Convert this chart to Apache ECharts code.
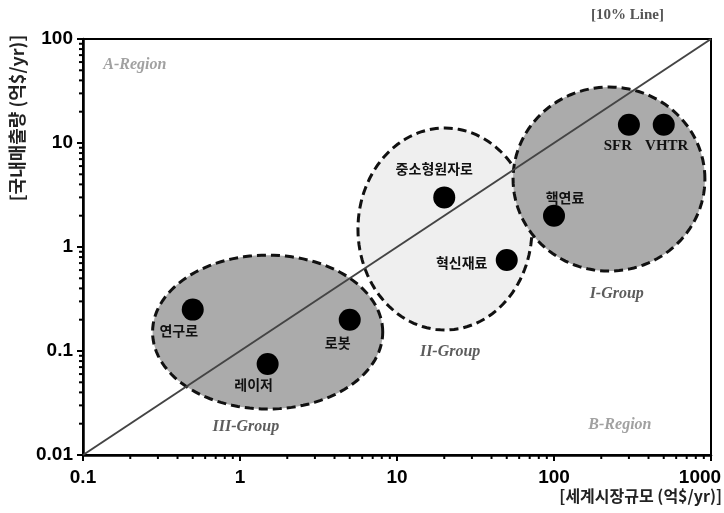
<!DOCTYPE html>
<html><head><meta charset="utf-8">
<script src="https://cdn.jsdelivr.net/npm/echarts@6/dist/echarts.min.js"></script>
<style>html,body{margin:0;padding:0;background:#fff}#c{width:724px;height:513px}</style>
</head><body><div id="c"></div>
<script>
// ---- data ----
const pointNames = ['연구로','레이저','로봇','중소형원자로','혁신재료','핵연료','SFR','VHTR'];
const pointX = [0.5, 1.5, 5, 20, 50, 100, 300, 500];
const pointY = [0.25, 0.075, 0.2, 3, 0.75, 2, 15, 15];
const lineX = [0.1, 1000];
const lineY = [0.01, 100];
const xTickLabels = ['0.1','1','10','100','1000'];
const yTickLabels = ['0.01','0.1','1','10','100'];
const groupNames = ['III-Group','II-Group','I-Group'];
const groupCX = [1.5, 20.2, 224];
const groupCY = [0.152, 1.49, 4.5];
const groupRX = [0.733, 0.554, 0.611];   // radii in decades
const groupRY = [0.74, 0.971, 0.885];
const groupLabelX = [1.09, 21.8, 251];
const groupLabelY = [0.0186, 0.098, 0.353];
const regionNames = ['A-Region','B-Region'];
const regionX = [0.214, 263];
const regionY = [56, 0.0194];
const minorMult = [2,3,4,5,6,7,8,9];
const xDecades = [0.1, 1, 10, 100];
const yDecades = [0.01, 0.1, 1, 10];

// ---- styles ----
const labelOffsets = {
  '연구로': [-14, 21], '레이저': [-14, 21], '로봇': [-12, 23], '중소형원자로': [-10, -29],
  '혁신재료': [-45, 3], '핵연료': [11, -18], 'SFR': [-11, 21], 'VHTR': [3, 21]
};
const groupFill = ['#ababab', '#efefef', '#ababab'];
const latin = /^[A-Za-z]+$/;
const tickFont = { color: '#000', fontSize: 19, fontWeight: 'bold', fontFamily: 'Liberation Sans, Arial' };

const minorX = [], minorY = [];
xDecades.forEach(d => minorMult.forEach(m => minorX.push(+(d * m).toPrecision(6))));
yDecades.forEach(d => minorMult.forEach(m => minorY.push(+(d * m).toPrecision(6))));

const chart = echarts.init(document.getElementById('c'));
const option = {
  backgroundColor: '#fff',
  animation: false,
  grid: { left: 83, right: 13, top: 39, bottom: 58, show: true, borderColor: '#000', borderWidth: 2,
    containLabel: false, outerBoundsMode: 'none' },
  xAxis: {
    type: 'log', logBase: 10, min: 0.1, max: 1000,
    splitLine: { show: false },
    axisLine: { lineStyle: { color: '#000', width: 2.5 } },
    axisTick: { length: 6, lineStyle: { color: '#000', width: 2 } },
    axisLabel: Object.assign({}, tickFont, { margin: 13,
      formatter: (v, i) => i === xTickLabels.length - 1 ? '{m|' + xTickLabels[i] + '}' : xTickLabels[i],
      rich: { m: Object.assign({}, tickFont, { padding: [0, 22, 0, 0] }) } }),
  },
  yAxis: {
    type: 'log', logBase: 10, min: 0.01, max: 100,
    splitLine: { show: false },
    axisLine: { lineStyle: { color: '#000', width: 2.5 } },
    axisTick: { length: 6, lineStyle: { color: '#000', width: 2 } },
    axisLabel: Object.assign({}, tickFont, { margin: 10, formatter: (v, i) => yTickLabels[i] }),
  },
  series: [
    {
      type: 'custom', z: 1, silent: true, clip: false,
      data: groupNames.map((n, i) => [groupCX[i], groupCY[i], groupRX[i], groupRY[i], i]),
      renderItem: (params, api) => {
        const cx = api.value(0), cy = api.value(1), rx = api.value(2), ry = api.value(3), idx = api.value(4);
        const pts = [];
        for (let k = 0; k < 120; k++) {
          const t = k / 120 * Math.PI * 2;
          pts.push(api.coord([cx * Math.pow(10, rx * Math.cos(t)), cy * Math.pow(10, ry * Math.sin(t))]));
        }
        return { type: 'polygon', shape: { points: pts },
          style: { fill: groupFill[idx], stroke: '#111', lineWidth: 3, lineDash: [9, 5] } };
      }
    },
    {
      type: 'line', z: 2, silent: true, symbol: 'none',
      data: lineX.map((x, i) => [x, lineY[i]]),
      lineStyle: { color: '#444', width: 2 }
    },
    {
      type: 'scatter', z: 3, symbolSize: 22,
      itemStyle: { color: '#000', opacity: 1 },
      data: pointNames.map((n, i) => ({
        name: n, value: [pointX[i], pointY[i]],
        label: {
          show: true, position: 'inside', offset: labelOffsets[n], formatter: '{b}',
          color: '#111', fontWeight: 'bold',
          fontSize: latin.test(n) ? 15 : 14,
          fontFamily: latin.test(n) ? 'Liberation Serif, Times New Roman, serif' : 'Noto Sans CJK KR, sans-serif'
        }
      }))
    },
    {
      type: 'scatter', z: 4, symbolSize: 0, silent: true,
      data: groupNames.map((n, i) => ({ name: n, value: [groupLabelX[i], groupLabelY[i]] })),
      label: { show: true, position: 'inside', formatter: '{b}', color: '#333', fontSize: 16,
        fontStyle: 'italic', fontWeight: 'bold', fontFamily: 'Liberation Serif, Times New Roman, serif' }
    },
    {
      type: 'scatter', z: 4, symbolSize: 0, silent: true,
      data: regionNames.map((n, i) => ({ name: n, value: [regionX[i], regionY[i]] })),
      label: { show: true, position: 'inside', formatter: '{b}', color: '#8a8a8a', fontSize: 16,
        fontStyle: 'italic', fontWeight: 'bold', fontFamily: 'Liberation Serif, Times New Roman, serif' }
    },
    {
      type: 'custom', z: 5, silent: true, clip: false,
      data: minorX.map(v => [v, 0.01]),
      renderItem: (params, api) => {
        const p = api.coord([api.value(0), api.value(1)]);
        return { type: 'line', shape: { x1: p[0], y1: p[1], x2: p[0], y2: p[1] + 4 },
          style: { stroke: '#000', lineWidth: 2 } };
      }
    },
    {
      type: 'custom', z: 5, silent: true, clip: false,
      data: minorY.map(v => [0.1, v]),
      renderItem: (params, api) => {
        const p = api.coord([api.value(0), api.value(1)]);
        return { type: 'line', shape: { x1: p[0] - 4, y1: p[1], x2: p[0], y2: p[1] },
          style: { stroke: '#000', lineWidth: 2 } };
      }
    }
  ],
  graphic: [
    { type: 'text', left: 591, top: 8, style: { text: '[10% Line]', fill: '#555', fontSize: 15, fontWeight: 'bold',
      fontFamily: 'Liberation Serif, Times New Roman, serif' } },
    { type: 'text', right: 2, top: 488, style: { text: '[세계시장규모 (억$/yr)]', fill: '#222', fontSize: 16, fontWeight: 'bold',
      fontFamily: 'Noto Sans CJK KR, sans-serif' } },
    { type: 'text', x: 17, y: 118, rotation: Math.PI / 2,
      style: { text: '[국내매출량 (억$/yr)]', fill: '#222', fontSize: 18, fontWeight: 'bold',
        fontFamily: 'Noto Sans CJK KR, sans-serif', align: 'center', verticalAlign: 'middle' } }
  ]
};
chart.setOption(option);
</script></body></html>
